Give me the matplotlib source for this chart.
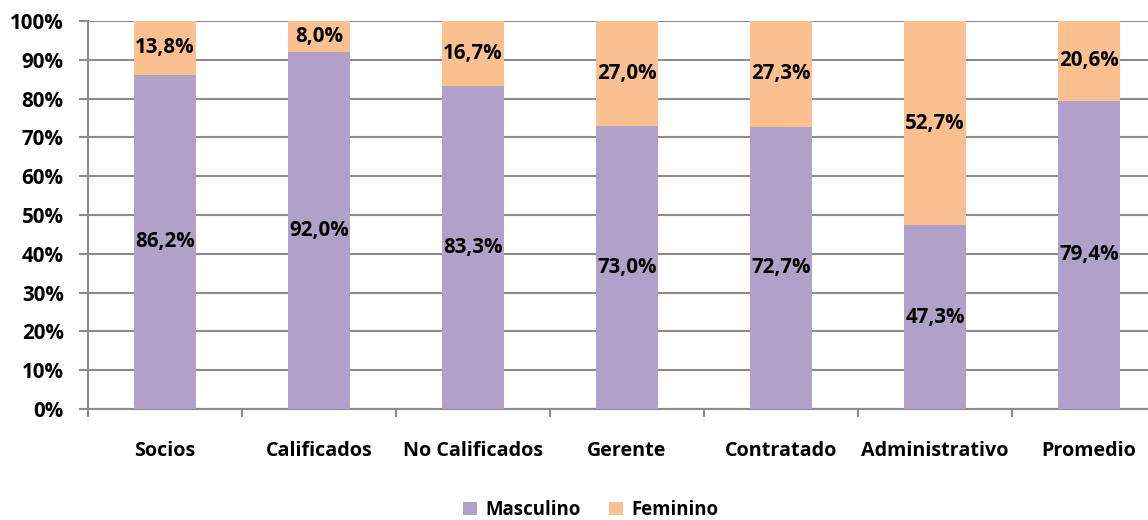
import matplotlib
matplotlib.use("Agg")
import matplotlib.pyplot as plt
from matplotlib.ticker import PercentFormatter, FixedLocator, NullFormatter

plt.rcParams['font.family'] = ['Open Sans', 'DejaVu Sans']
plt.rcParams['font.weight'] = 'bold'

categories = ['Socios', 'Calificados', 'No Calificados', 'Gerente',
              'Contratado', 'Administrativo', 'Promedio']
masculino = [86.2, 92.0, 83.3, 73.0, 72.7, 47.3, 79.4]
femenino = [13.8, 8.0, 16.7, 27.0, 27.3, 52.7, 20.6]

purple = '#B1A0C7'
orange = '#FAC090'

fig = plt.figure(figsize=(11.48, 5.2), dpi=100)
# axes extends slightly past the right edge, as in the reference crop
ax = fig.add_axes([88 / 1148, 1 - 409 / 520, (1166 - 88) / 1148, 388 / 520])

x = range(len(categories))
w = 0.40
b1 = ax.bar(x, masculino, w, color=purple, label='Masculino', zorder=3)
b2 = ax.bar(x, femenino, w, bottom=masculino, color=orange, label='Feminino', zorder=3)

num_fs = 14.8
word_fs = 14.2
# labels at the middle of each segment
for i in x:
    ax.text(i, masculino[i] / 2, f"{masculino[i]:.1f}%".replace('.', ','),
            ha='center', va='center', fontsize=num_fs, fontweight='bold')
    ax.text(i, masculino[i] + femenino[i] / 2, f"{femenino[i]:.1f}%".replace('.', ','),
            ha='center', va='center', fontsize=num_fs, fontweight='bold')

ax.set_xlim(-0.5, len(categories) - 0.5)
ax.set_ylim(0, 100)
ax.set_yticks(range(0, 101, 10))
ax.yaxis.set_major_formatter(PercentFormatter(decimals=0))
ax.grid(axis='y', color='#8C8C8C', linewidth=1.5, zorder=0)

ax.set_xticks(list(x))
ax.set_xticklabels(categories)
ax.xaxis.set_minor_locator(FixedLocator([i - 0.5 for i in range(len(categories) + 1)]))
ax.xaxis.set_minor_formatter(NullFormatter())
ax.tick_params(axis='x', which='major', length=0, pad=23, labelsize=word_fs)
ax.tick_params(axis='x', which='minor', length=6, width=1.5, color='#8C8C8C')
ax.tick_params(axis='y', length=6.5, width=1.5, color='#8C8C8C', labelsize=num_fs, pad=11)

for s in ['top', 'right']:
    ax.spines[s].set_visible(False)
for s in ['left', 'bottom']:
    ax.spines[s].set_color('#8C8C8C')
    ax.spines[s].set_linewidth(1.5)

fig.legend(handles=[b1, b2], loc='center', bbox_to_anchor=(591 / 1148, 1 - 510 / 520),
           ncol=2, frameon=False, fontsize=13.4, handlelength=0.75, handleheight=0.75,
           columnspacing=1.5, handletextpad=0.45)

fig.savefig('out.png', dpi=100)
